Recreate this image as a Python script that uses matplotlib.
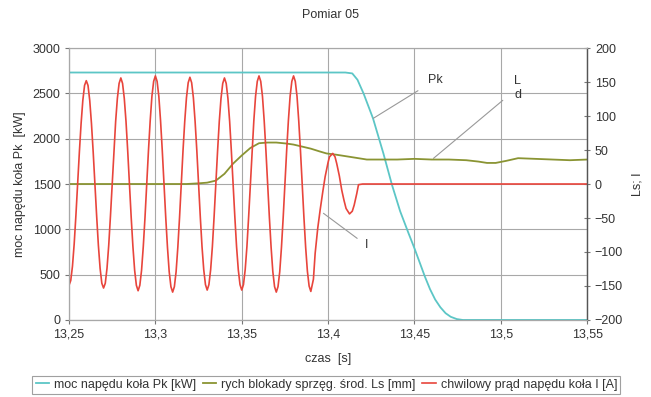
import numpy as np
import matplotlib.pyplot as plt
from matplotlib.ticker import FuncFormatter, MultipleLocator

plt.rcParams['font.family'] = ['Liberation Sans', 'DejaVu Sans']

# moc napedu kola Pk [kW] (lewa os)
pk_t = [13.25, 13.41, 13.414, 13.417, 13.4205, 13.426, 13.432, 13.437, 13.4417,
        13.4465, 13.45, 13.4533, 13.456, 13.459, 13.462, 13.465, 13.468, 13.471,
        13.4745, 13.478, 13.55]
pk_v = [2730, 2730, 2720, 2650, 2500, 2224, 1838, 1489, 1200,
        960, 790, 620, 480, 340, 225, 140, 75, 35,
        10, 0, 0]

# rych blokady sprzeg. srod. Ls [mm] (prawa os)
ls_t = [13.25, 13.318, 13.325, 13.33, 13.335, 13.34, 13.345, 13.35, 13.355, 13.36,
        13.365, 13.37, 13.376, 13.38, 13.385, 13.39, 13.395, 13.399, 13.405, 13.41,
        13.415, 13.4224, 13.43, 13.44, 13.45, 13.46, 13.47, 13.48, 13.487, 13.492,
        13.497, 13.503, 13.51, 13.52, 13.53, 13.54, 13.55]
ls_v = [0, 0, 1, 2, 5, 15, 30, 42, 53, 60,
        61, 61, 59.5, 58, 55, 52, 48, 45, 43, 41,
        39, 36, 36, 36, 37, 36, 36, 35, 33, 31,
        31, 34, 38, 37, 36, 35, 36]

# chwilowy prad napedu kola I [A] (prawa os), probki co 1 ms do 13,39 s
i_t = list(np.round(np.arange(13.25, 13.3905, 0.001), 3)) + [
    13.3915, 13.3925, 13.394, 13.3954, 13.397, 13.3983, 13.4, 13.4008, 13.4027,
    13.404, 13.405, 13.4065, 13.4079, 13.4092, 13.4104, 13.4124, 13.414, 13.4151,
    13.4166, 13.4176, 13.42, 13.55]
i_v = [-149, -142, -121, -88, -46, 0, 47, 89, 123, 145,
       152, 145, 123, 89, 47, 0, -47, -90, -124, -146,
       -153, -146, -124, -90, -47, 0, 48, 92, 126, 148,
       156, 148, 126, 92, 48, 0, -49, -92, -127, -149,
       -157, -149, -127, -92, -49, 0, 49, 93, 129, 151,
       159, 151, 129, 93, 49, 0, -49, -93, -129, -151,
       -159, -151, -129, -93, -49, 0, 49, 92, 127, 149,
       157, 149, 127, 92, 49, 0, -48, -92, -126, -148,
       -156, -148, -126, -92, -48, 0, 48, 92, 126, 148,
       156, 148, 126, 92, 48, 0, -48, -92, -126, -148,
       -156, -148, -126, -92, -48, 0, 49, 93, 129, 151,
       159, 151, 129, 93, 49, 0, -49, -93, -129, -151,
       -159, -151, -129, -93, -49, 0, 49, 93, 129, 151,
       159, 151, 129, 93, 49, 0, -49, -93, -128, -150,
       -158,
       -140, -102, -65, -38, -10, 11, 32, 40, 45,
       40, 30, 12, -9, -24, -36, -44, -40, -31,
       -14, -1, 0, 0]

x_ticks = [13.25, 13.3, 13.35, 13.4, 13.45, 13.5, 13.55]

c_pk = '#5cc6c6'
c_ls = '#8a9433'
c_i = '#e8453c'
txt = '#333333'
grid_c = '#a8a8a8'
fs = 9

fig = plt.figure(figsize=(6.51, 3.97), dpi=100)
ax = fig.add_axes([0.106, 0.194, 0.796, 0.685])
ax2 = ax.twinx()

l1, = ax.plot(pk_t, pk_v, color=c_pk, lw=1.3, label='moc napędu koła Pk [kW]')
l2, = ax2.plot(ls_t, ls_v, color=c_ls, lw=1.3, label='rych blokady sprzęg. środ. Ls [mm]')
l3, = ax2.plot(i_t, i_v, color=c_i, lw=1.2, label='chwilowy prąd napędu koła I [A]')

ax.set_xlim(13.25, 13.55)
ax.set_ylim(0, 3000)
ax2.set_ylim(-200, 200)
ax.set_xticks(x_ticks)
ax.yaxis.set_major_locator(MultipleLocator(500))
ax2.yaxis.set_major_locator(MultipleLocator(50))
comma = FuncFormatter(lambda v, p: f'{v:g}'.replace('.', ','))
ax.xaxis.set_major_formatter(comma)

ax.grid(True, color=grid_c, lw=0.8)
ax.set_axisbelow(True)

for a in (ax, ax2):
    for s in a.spines.values():
        s.set_color(grid_c)
        s.set_linewidth(0.8)
    a.tick_params(labelsize=fs, colors=txt, length=3, width=0.8, pad=3)
ax.spines['left'].set_color('#777777')
ax.spines['bottom'].set_color('#777777')
ax2.spines['right'].set_color('#555555')
ax2.spines['right'].set_linewidth(1.0)
ax2.tick_params(axis='y', direction='inout', length=5, color='#777777')
ax.tick_params(axis='both', color='#777777')

ax.set_xlabel('czas  [s]', fontsize=fs, color=txt, labelpad=9)
ax.set_ylabel('moc napędu koła Pk  [kW]', fontsize=fs, color=txt, labelpad=5)
ax2.set_ylabel('Ls; I', fontsize=fs, color=txt, labelpad=6)
fig.text(0.507, 0.962, 'Pomiar 05', ha='center', va='center', fontsize=fs, color=txt)

# opisy krzywych
ax.annotate('Pk', xy=(13.4262, 2225), xytext=(13.462, 2647), fontsize=fs, color=txt,
            ha='center', va='center',
            arrowprops=dict(arrowstyle='-', color='#999999', lw=0.8, shrinkA=6, shrinkB=0))
ax.annotate('L\nd', xy=(13.461, 1783), xytext=(13.5097, 2560), fontsize=fs, color=txt,
            ha='center', va='center', linespacing=1.2,
            arrowprops=dict(arrowstyle='-', color='#999999', lw=0.8, shrinkA=8, shrinkB=0))
ax.annotate('I', xy=(13.3973, 1177), xytext=(13.422, 827), fontsize=fs, color=txt,
            ha='center', va='center',
            arrowprops=dict(arrowstyle='-', color='#999999', lw=0.8, shrinkA=4, shrinkB=0))

leg = fig.legend(handles=[l1, l2, l3], loc='center', bbox_to_anchor=(0.5015, 0.031),
                 ncol=3, fontsize=fs, handlelength=1.1, handletextpad=0.4,
                 columnspacing=0.5, frameon=True, fancybox=False, borderpad=0.25,
                 borderaxespad=0, edgecolor='#888888', labelcolor=txt)
leg.get_frame().set_linewidth(0.8)

fig.savefig('out.png', dpi=100)
